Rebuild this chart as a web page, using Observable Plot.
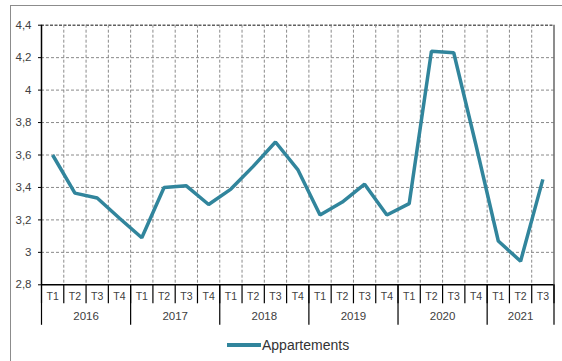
<!DOCTYPE html>
<html>
<head>
<meta charset="utf-8">
<script src="https://cdn.jsdelivr.net/npm/d3@7"></script>
<script src="https://cdn.jsdelivr.net/npm/@observablehq/plot@0.6"></script>
<style>
  html, body { margin: 0; padding: 0; background: #fff; }
  #wrap { position: relative; width: 562px; height: 361px; overflow: hidden; font-family: "Liberation Sans", Arial, sans-serif; }
  #frame { position: absolute; left: 10px; top: 5px; width: 560px; height: 370px; border-top: 1.5px solid #8c8c8c; border-left: 1.5px solid #8c8c8c; }
  #chart { position: absolute; left: 0; top: 0; }
  #legend { position: absolute; left: 227px; top: 336px; height: 18px; display: flex; align-items: center; font-size: 14px; color: #333; }
  #legend .sw { display: inline-block; width: 34px; height: 3.5px; background: #31859c; margin-right: 1px; }
</style>
</head>
<body>
<div id="wrap">
  <div id="frame"></div>
  <div id="chart"></div>
  <div id="legend"><span class="sw"></span><span>Appartements</span></div>
</div>
<script>
// ---- data ----
const quarters = ["T1","T2","T3","T4","T1","T2","T3","T4","T1","T2","T3","T4",
                  "T1","T2","T3","T4","T1","T2","T3","T4","T1","T2","T3"];
const years = ["2016","2017","2018","2019","2020","2021"];
const quartersPerYear = [4, 4, 4, 4, 4, 3];
const appartements = [3.60, 3.365, 3.335, 3.21, 3.09, 3.40, 3.41, 3.295,
                      3.39, 3.53, 3.68, 3.51, 3.23, 3.31, 3.42, 3.23,
                      3.30, 4.24, 4.23, 3.66, 3.07, 2.945, 3.45];
const yTicks = [2.8, 3, 3.2, 3.4, 3.6, 3.8, 4, 4.2, 4.4];

// ---- derived tables ----
const data = appartements.map((v, i) => ({i, q: quarters[i], v}));
const n = quarters.length;
const idx = d3.range(n);
const quarterBounds = d3.range(n + 1).map(k => k - 0.5);
const innerBounds = quarterBounds.slice(1, -1);
let acc = 0;
const yearBounds = [-0.5];
const yearCenters = [];
quartersPerYear.forEach(c => { yearCenters.push(acc + (c - 1) / 2); acc += c; yearBounds.push(acc - 0.5); });

const fmt = d => String(d).replace(".", ",");

const chart = Plot.plot({
  width: 562,
  height: 330,
  marginLeft: 41,
  marginRight: 8.5,
  marginTop: 24.7,
  marginBottom: 45.7,
  x: {domain: [-0.5, n - 0.5], axis: null},
  y: {domain: [2.8, 4.4], axis: null},
  style: {fontFamily: "'Liberation Sans', Arial, sans-serif", background: "transparent", overflow: "visible"},
  marks: [
    // dashed grid
    Plot.ruleY(yTicks.slice(1, -1), {stroke: "#8a8a8a", strokeDasharray: "3,2", strokeWidth: 1}),
    Plot.ruleY([4.4], {stroke: "#606060", strokeDasharray: "3,1.5", strokeWidth: 1.5}),
    Plot.ruleX(innerBounds, {stroke: "#8a8a8a", strokeDasharray: "3,2", strokeWidth: 1}),
    // quarter separators below the frame
    Plot.ruleX(quarterBounds, {y1: 2.8, y2: 2.8, insetBottom: -19, stroke: "#000", strokeWidth: 1.2}),
    // year separators below the frame
    Plot.ruleX(yearBounds, {y1: 2.8, y2: 2.8, insetBottom: -40.5, stroke: "#000", strokeWidth: 1.2}),
    // left axis and right edge
    Plot.ruleX([-0.5], {stroke: "#000", strokeWidth: 1.5}),
    Plot.ruleX([n - 0.5], {stroke: "#404040", strokeWidth: 1.2}),
    Plot.ruleY([2.8], {stroke: "#000", strokeWidth: 1.5}),
    // y axis
    Plot.axisY({ticks: yTicks, tickSize: 3, tickPadding: 7, tickFormat: fmt, fontSize: 11.5,
                stroke: "#000", fill: "#404040", label: null}),
    // quarter labels
    Plot.axisX({ticks: idx, tickSize: 0, tickPadding: 7.5, tickFormat: i => quarters[i],
                fontSize: 10.5, fill: "#404040", label: null}),
    // year labels
    Plot.axisX({ticks: yearCenters, tickSize: 0, tickPadding: 27, tickFormat: d => years[yearCenters.indexOf(d)],
                fontSize: 11.5, fill: "#404040", label: null}),
    // series
    Plot.line(data, {x: "i", y: "v", stroke: "#31859c", strokeWidth: 3.5, strokeLinejoin: "miter", strokeLinecap: "butt"})
  ]
});
document.getElementById("chart").appendChild(chart);
</script>
</body>
</html>
